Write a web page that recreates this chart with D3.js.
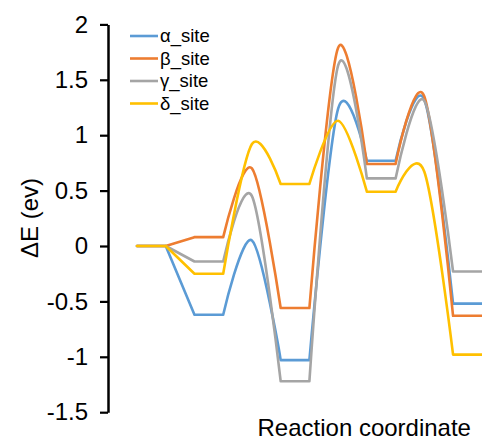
<!DOCTYPE html>
<html>
<head>
<meta charset="utf-8">
<script src="https://cdn.jsdelivr.net/npm/d3@7"></script>
<style>
  html, body { margin: 0; padding: 0; background: #fff; }
  svg { display: block; }
  text { font-family: "Liberation Sans", Arial, sans-serif; fill: #000; }
</style>
</head>
<body>
<svg id="chart" width="482" height="441"></svg>
<script>
// ---- data ----
const stages = ["IS0", "IS1", "TS1", "IS2", "TS2", "IS3", "TS3", "IS4"];
const stageType = ["min", "min", "ts", "min", "ts", "min", "ts", "min"];
const seriesNames = ["α_site", "β_site", "γ_site", "δ_site"];
const alphaSite = [0, -0.62, 0.05, -1.03, 1.24, 0.77, 1.32, -0.52];
const betaSite  = [0, 0.08, 0.70, -0.56, 1.79, 0.74, 1.35, -0.63];
const gammaSite = [0, -0.14, 0.45, -1.22, 1.63, 0.61, 1.31, -0.23];
const deltaSite = [0, -0.25, 0.92, 0.56, 1.13, 0.49, 0.67, -0.98];
const seriesColors = ["#5B9BD5", "#ED7D31", "#A5A5A5", "#FFC000"];
const yTicks = [-1.5, -1, -0.5, 0, 0.5, 1, 1.5, 2];
const yTitle = "ΔE (ev)";
const xTitle = "Reaction coordinate";

const seriesValues = [alphaSite, betaSite, gammaSite, deltaSite];

// ---- layout ----
const svg = d3.select("#chart");
const axisX = 108;
const x = d3.scaleLinear().domain([0, 12]).range([137, 481.8]);
const y = d3.scaleLinear().domain([-1.5, 2]).range([412.2, 24.4]);

// build pieces along the reaction coordinate
function buildPieces(vals) {
  const pieces = [];
  let u = 0;
  for (let i = 0; i < vals.length; i++) {
    if (stageType[i] === "min") {
      if (i > 0 && stageType[i - 1] === "min") {
        pieces.push({ type: "line", pts: [[u, vals[i - 1]], [u + 1, vals[i]]] });
        u += 1;
      }
      pieces.push({ type: "line", pts: [[u, vals[i]], [u + 1, vals[i]]] });
      u += 1;
    } else {
      pieces.push({ type: "curve", pts: [[u, vals[i - 1]], [u + 1, vals[i]], [u + 2, vals[i + 1]]] });
      u += 2;
    }
  }
  return pieces;
}

const straight = d3.line().x(d => x(d[0])).y(d => y(d[1]));
const smooth = d3.line().x(d => x(d[0])).y(d => y(d[1])).curve(d3.curveCardinal.tension(0));

// axis
const yAxis = d3.axisLeft(y).tickValues(yTicks).tickSize(8).tickSizeOuter(0).tickPadding(12)
  .tickFormat(d => String(d));
const gAxis = svg.append("g").attr("transform", `translate(${axisX},0)`).call(yAxis);
gAxis.select(".domain").attr("stroke", "#000").attr("stroke-width", 2.5);
gAxis.selectAll(".tick line").attr("stroke", "#000").attr("stroke-width", 2.2);
gAxis.selectAll(".tick text").attr("font-size", 24).attr("fill", "#000")
  .style("font-family", '"Liberation Sans", Arial, sans-serif');

// series
const gSeries = svg.append("g").attr("fill", "none");
seriesValues.forEach((vals, si) => {
  const pieces = buildPieces(vals);
  const d = pieces.map(p => (p.type === "line" ? straight(p.pts) : smooth(p.pts))).join("");
  gSeries.append("path")
    .attr("d", d)
    .attr("stroke", seriesColors[si])
    .attr("stroke-width", 2.6)
    .attr("stroke-linejoin", "round")
    .attr("stroke-linecap", "round");
});

// legend
const legend = svg.append("g");
seriesNames.forEach((name, i) => {
  const ly = 36 + i * 22.5;
  legend.append("line").attr("x1", 130).attr("x2", 158).attr("y1", ly).attr("y2", ly)
    .attr("stroke", seriesColors[i]).attr("stroke-width", 2.6);
  legend.append("text").attr("x", 160).attr("y", ly).attr("dy", "0.35em")
    .attr("font-size", 18.5).text(name);
});

// titles
svg.append("text").attr("transform", "translate(38,218) rotate(-90)")
  .attr("text-anchor", "middle").attr("font-size", 24).text(yTitle);
svg.append("text").attr("x", 257.5).attr("y", 435.5)
  .attr("font-size", 24).text(xTitle);
</script>
</body>
</html>
